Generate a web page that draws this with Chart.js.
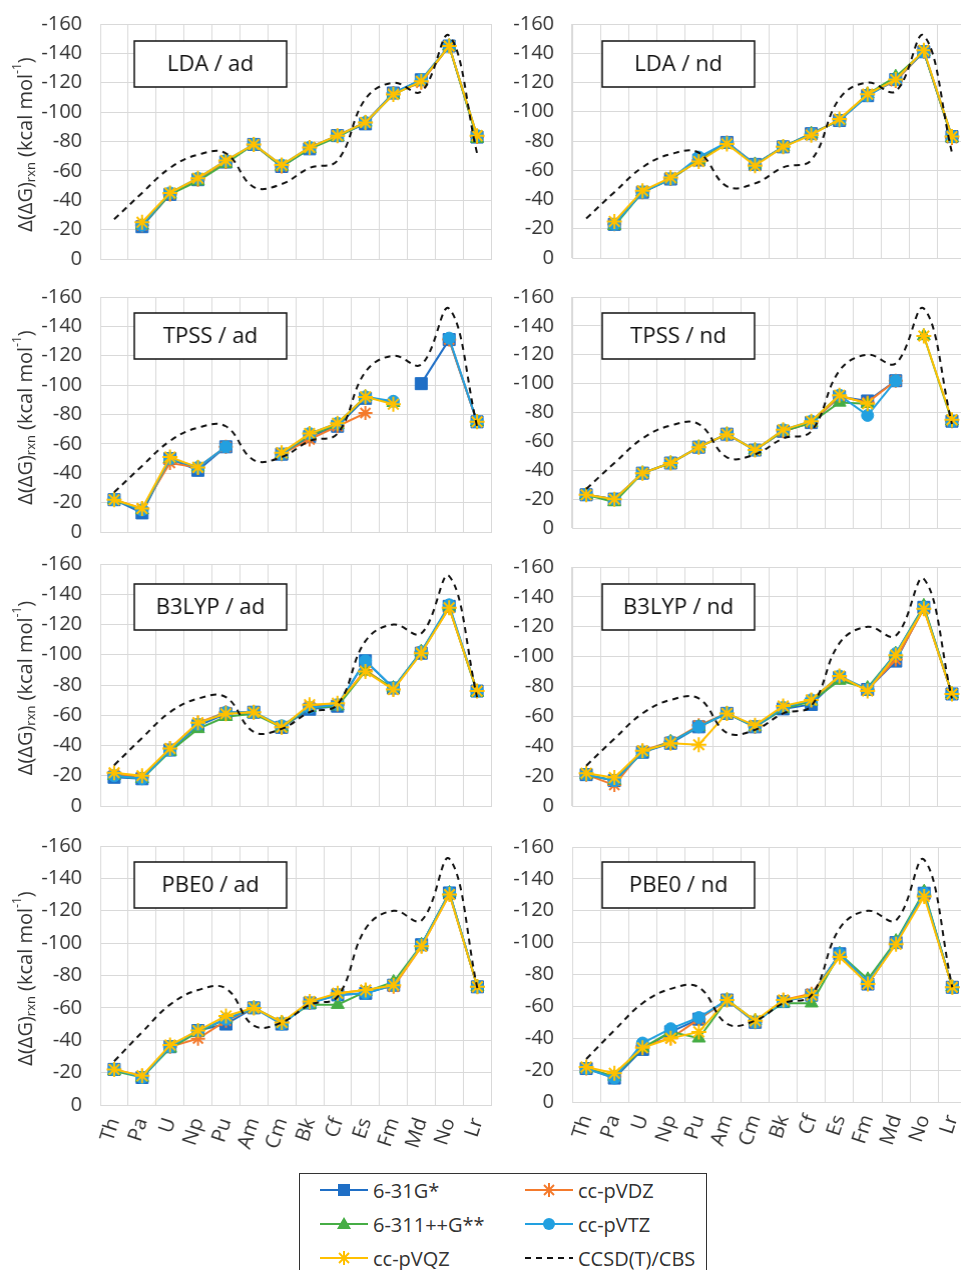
<!DOCTYPE html>
<html>
<head>
<meta charset="utf-8">
<script src="https://cdn.jsdelivr.net/npm/chart.js@4.4.1/dist/chart.umd.min.js"></script>
<style>
  html, body { margin: 0; padding: 0; background: #fff; overflow: hidden; }
  #fig { position: relative; width: 961px; height: 1270px; overflow: hidden; font-family: "Open Sans", sans-serif; }
  #fig canvas { position: absolute; }
  #legend { position: absolute; left: 299px; top: 1173px; width: 408px; height: 130px;
            border: 1.5px solid #333; box-sizing: border-box; background: #fff; }
  #legend .item { position: absolute; height: 22px; display: flex; align-items: center;
                  font-size: 20px; color: #333; white-space: nowrap; }
  #legend svg { margin-right: 5px; }
</style>
</head>
<body>
<div id="fig">
  <div id="legend"></div>
</div>
<script>
// actinides on the x axis
const elements = ['Th', 'Pa', 'U', 'Np', 'Pu', 'Am', 'Cm', 'Bk', 'Cf', 'Es', 'Fm', 'Md', 'No', 'Lr'];
const yTicks = [-160, -140, -120, -100, -80, -60, -40, -20, 0];

const basisSets = ['6-31G*', 'cc-pVDZ', '6-311++G**', 'cc-pVTZ', 'cc-pVQZ'];
const refLabel = 'CCSD(T)/CBS';

// reference curve, same in every panel
const ccsdCbs = [-27, -45, -62, -71, -72, -49, -51, -62, -67, -109, -120, -114, -152, -72];

// rows follow basisSets order
const ldaAd = [
  [null, -22, -44, -54, -66, -78, -63, -75, -84, -92, -113, -122, -145, -83],
  [null, -23, -44, -54, -66, -78, -63, -76, -84, -93, -113, -120, -145, -83],
  [null, -23, -44, -53, -65, -78, -63, -75, -83, -93, -112, -121, -145, -82],
  [null, -23, -45, -55, -67, -78, -64, -76, -84, -93, -113, -122, -145, -84],
  [null, -25, -45, -55, -67, -78, -64, -76, -84, -93, -112, -121, -145, -84]
];
const ldaNd = [
  [null, -23, -45, -54, -67, -79, -64, -76, -85, -94, -111, -122, -141, -83],
  [null, -23, -45, -54, -67, -79, -64, -76, -85, -94, -112, -121, -141, -82],
  [null, -22, -45, -54, -67, -78, -64, -76, -85, -94, -112, -124, -141, -82],
  [null, -23, -45, -54, -69, -79, -64, -76, -85, -94, -111, -122, -141, -83],
  [null, -25, -46, -55, -66, -78, -63, -76, -84, -95, -112, -122, -142, -83]
];
const tpssAd = [
  [-22, -13, -50, -42, -58, null, -53, -65, -72, -91, null, -101, -131, -75],
  [-22, -16, -47, -44, -58, null, -53, -63, -72, -81, null, null, -131, -75],
  [-22, -15, -50, -44, null, null, -53, -66, -73, -92, -88, null, null, -75],
  [-22, -15, -50, -44, -58, null, -53, -67, -74, -92, -89, null, -132, -75],
  [-22, -16, -51, -44, null, null, -54, -67, -74, -92, -87, null, null, -75]
];
const tpssNd = [
  [-23, -20, -38, -45, -56, -65, -54, -67, -73, -91, -88, -102, null, -74],
  [-23, -20, -38, -45, -56, -65, -54, -67, -73, -91, -87, -102, null, -74],
  [-23, -18, -38, -45, -56, -65, -54, -67, -73, -87, -86, null, -133, -74],
  [-23, -20, -38, -45, -56, -65, -54, -68, -74, -92, -78, -102, null, -74],
  [-23, -20, -38, -45, -56, -65, -54, -68, -74, -92, -86, null, -133, -75]
];
const b3lypAd = [
  [-19, -18, -37, -53, -61, -62, -52, -64, -66, -96, -78, -101, -132, -76],
  [-21, -19, -38, -55, -62, -62, -52, -66, -67, -90, -77, -102, -131, -76],
  [-20, -18, -36, -51, -59, -61, -52, -65, -66, -89, -78, -102, -132, -75],
  [-20, -18, -37, -54, -62, -62, -53, -65, -67, -96, -78, -102, -133, -76],
  [-22, -20, -38, -55, -61, -62, -52, -67, -68, -89, -77, -101, -131, -76]
];
const b3lypNd = [
  [-21, -17, -36, -42, -53, -62, -53, -65, -68, -86, -78, -97, -133, -75],
  [-21, -14, -37, -43, -54, -62, -53, -66, -71, -86, -78, -98, -132, -75],
  [-21, -17, -36, -43, -53, -62, -53, -65, -70, -84, -79, -102, -134, -75],
  [-21, -17, -36, -43, -53, -62, -53, -66, -71, -87, -78, -102, -133, -75],
  [-22, -19, -37, -42, -41, -62, -54, -67, -71, -87, -77, -101, -132, -75]
];
const pbe0Ad = [
  [-22, -17, -36, -46, -50, -60, -50, -63, -68, -69, -74, -99, -131, -73],
  [-22, -18, -36, -41, -52, -60, -51, -63, -69, -71, -73, -98, -130, -73],
  [-21, -17, -35, -45, -53, -60, -51, -62, -62, -70, -76, -99, -131, -73],
  [-22, -17, -36, -46, -53, -60, -50, -63, -68, -69, -74, -99, -131, -73],
  [-22, -18, -37, -46, -55, -60, -51, -64, -69, -71, -74, -98, -130, -73]
];
const pbe0Nd = [
  [-21, -15, -33, -44, -52, -64, -50, -63, -67, -93, -74, -100, -131, -72],
  [-21, -16, -35, -40, -52, -64, -50, -64, -68, -92, -74, -100, -130, -72],
  [-21, -16, -34, -44, -40, -64, -51, -62, -62, -93, -77, -101, -132, -72],
  [-21, -15, -37, -46, -53, -64, -50, -63, -67, -93, -75, -100, -131, -72],
  [-22, -18, -34, -40, -44, -64, -51, -64, -67, -91, -74, -99, -129, -72]
];

// series styling
const colors = ['#1f6fc6', '#f47a2c', '#46ad45', '#22a0e0', '#ffc000'];
const markers = ['rect', 'star', 'triangle', 'circle', 'star'];
const markerRadius = [8.5, 7, 7.5, 6, 7.5];

const FONT = '"Open Sans", sans-serif';
const TEXT = '#333';
Chart.defaults.font.family = FONT;

// two columns of panels (page x of the plot area)
const cols = [
  { plotLeft: 100, plotRight: 490, boxDx: 34 },
  { plotLeft: 572, plotRight: 965, boxDx: 30 }
];

const panels = [
  { label: 'LDA / ad',   data: ldaAd,   col: 0, row: 0, top: 24,  bottom: 259,  boxDy: 17 },
  { label: 'LDA / nd',   data: ldaNd,   col: 1, row: 0, top: 24,  bottom: 258,  boxDy: 17 },
  { label: 'TPSS / ad',  data: tpssAd,  col: 0, row: 1, top: 297, bottom: 532,  boxDy: 16 },
  { label: 'TPSS / nd',  data: tpssNd,  col: 1, row: 1, top: 297, bottom: 528,  boxDy: 16 },
  { label: 'B3LYP / ad', data: b3lypAd, col: 0, row: 2, top: 564, bottom: 806,  boxDy: 20 },
  { label: 'B3LYP / nd', data: b3lypNd, col: 1, row: 2, top: 567, bottom: 806,  boxDy: 17 },
  { label: 'PBE0 / ad',  data: pbe0Ad,  col: 0, row: 3, top: 846, bottom: 1105, boxDy: 16 },
  { label: 'PBE0 / nd',  data: pbe0Nd,  col: 1, row: 3, top: 847, bottom: 1102, boxDy: 15 }
];

// framed method label inside the plot
const panelBox = {
  id: 'panelBox',
  afterDatasetsDraw(chart, args, opts) {
    const { ctx, chartArea } = chart;
    const x = chartArea.left + opts.dx, y = chartArea.top + opts.dy;
    ctx.save();
    ctx.fillStyle = '#fff';
    ctx.fillRect(x, y, 152, 46);
    ctx.strokeStyle = '#111';
    ctx.lineWidth = 1.5;
    ctx.strokeRect(x, y, 152, 46);
    ctx.fillStyle = '#111';
    ctx.font = '22px ' + FONT;
    ctx.textAlign = 'center';
    ctx.textBaseline = 'middle';
    ctx.fillText(opts.text, x + 76, y + 24);
    ctx.restore();
  }
};

// rotated y title with sub- and superscript
const yTitle = {
  id: 'yTitle',
  afterDraw(chart, args, opts) {
    if (!opts.show) return;
    const { ctx, chartArea } = chart;
    const parts = [
      { t: '\u0394(\u0394G)', size: 20, dy: 0 },
      { t: 'rxn', size: 13, dy: 5 },
      { t: ' (kcal mol', size: 20, dy: 0 },
      { t: '-1', size: 12, dy: -8 },
      { t: ')', size: 20, dy: 0 }
    ];
    ctx.save();
    let total = 0;
    parts.forEach(p => { ctx.font = p.size + 'px ' + FONT; p.w = ctx.measureText(p.t).width; total += p.w; });
    ctx.translate(chartArea.left - 74, (chartArea.top + chartArea.bottom) / 2 + 3);
    ctx.rotate(-Math.PI / 2);
    ctx.fillStyle = TEXT;
    ctx.textBaseline = 'middle';
    let x = -total / 2;
    parts.forEach(p => {
      ctx.font = p.size + 'px ' + FONT;
      ctx.fillText(p.t, x, p.dy);
      x += p.w;
    });
    ctx.restore();
  }
};

const fig = document.getElementById('fig');

panels.forEach(p => {
  const g = cols[p.col];
  const bottomRow = p.row === 3;
  const xh = bottomRow ? 62 : 0;
  const yw = p.col === 0 ? 100 : 80;
  const cv = document.createElement('canvas');
  cv.width = (g.plotRight - g.plotLeft) + yw + 10;
  cv.height = (p.bottom - p.top) + 30 + xh;
  fig.appendChild(cv);

  const datasets = basisSets.map((name, i) => ({
    label: name,
    data: p.data[i],
    borderColor: colors[i],
    backgroundColor: colors[i],
    borderWidth: 2,
    pointStyle: markers[i],
    pointRadius: markerRadius[i],
    pointBorderWidth: markers[i] === 'star' ? 2 : 1,
    pointBackgroundColor: colors[i],
    pointBorderColor: colors[i],
    tension: 0,
    spanGaps: false,
    order: 6 - i
  }));
  datasets.push({
    label: refLabel,
    data: ccsdCbs,
    borderColor: '#111',
    borderWidth: 2,
    borderDash: [6, 5],
    pointRadius: 0,
    tension: 0.4,
    order: 0
  });

  const chart = new Chart(cv, {
    type: 'line',
    data: { labels: elements, datasets: datasets },
    options: {
      responsive: false,
      maintainAspectRatio: false,
      animation: false,
      layout: { padding: 0 },
      plugins: {
        legend: { display: false },
        tooltip: { enabled: false },
        panelBox: { text: p.label, dx: g.boxDx, dy: p.boxDy },
        yTitle: { show: p.col === 0 }
      },
      scales: {
        x: {
          type: 'category',
          offset: true,
          grid: { color: '#d9d9d9', offset: true, drawTicks: false },
          border: { color: '#d9d9d9' },
          ticks: {
            display: bottomRow, autoSkip: false, minRotation: 72, maxRotation: 72,
            padding: 10, color: TEXT, font: { size: 20 }
          },
          afterFit: s => { s.height = xh; }
        },
        y: {
          reverse: true,
          min: yTicks[0],
          max: yTicks[yTicks.length - 1],
          afterBuildTicks: s => { s.ticks = yTicks.map(v => ({ value: v })); },
          grid: { color: '#d9d9d9', drawTicks: false },
          border: { color: '#d9d9d9' },
          ticks: { padding: 18, color: TEXT, font: { size: 20 } },
          afterFit: s => { s.width = yw; }
        }
      }
    },
    plugins: [panelBox, yTitle]
  });

  // size the canvas so the plot area matches the panel, then place it
  let ca = chart.chartArea;
  const dw = (g.plotRight - g.plotLeft) - (ca.right - ca.left);
  const dh = (p.bottom - p.top) - (ca.bottom - ca.top);
  chart.resize(cv.width + dw, cv.height + dh);
  ca = chart.chartArea;
  cv.style.left = (g.plotLeft - ca.left) + 'px';
  cv.style.top = (p.top - ca.top) + 'px';
});

// legend, three rows of two entries
function legendIcon(color, marker, dashed) {
  const ns = 'http://www.w3.org/2000/svg';
  const svg = document.createElementNS(ns, 'svg');
  svg.setAttribute('width', 48);
  svg.setAttribute('height', 20);
  const add = (tag, attrs) => {
    const el = document.createElementNS(ns, tag);
    Object.entries(attrs).forEach(([k, v]) => el.setAttribute(k, v));
    svg.appendChild(el);
  };
  add('line', { x1: 0, y1: 10, x2: 48, y2: 10, stroke: color, 'stroke-width': 2,
                'stroke-dasharray': dashed ? '6,5' : 'none' });
  if (marker === 'rect') add('rect', { x: 18, y: 4, width: 12, height: 12, fill: color });
  if (marker === 'circle') add('circle', { cx: 24, cy: 10, r: 6, fill: color });
  if (marker === 'triangle') add('polygon', { points: '24,3 31,15 17,15', fill: color });
  if (marker === 'star') {
    add('line', { x1: 24, y1: 3, x2: 24, y2: 17, stroke: color, 'stroke-width': 2 });
    add('line', { x1: 19, y1: 5, x2: 29, y2: 15, stroke: color, 'stroke-width': 2 });
    add('line', { x1: 29, y1: 5, x2: 19, y2: 15, stroke: color, 'stroke-width': 2 });
  }
  return svg;
}

const legend = document.getElementById('legend');
const entries = basisSets.map((name, i) => ({ name, color: colors[i], marker: markers[i], dashed: false }));
entries.push({ name: refLabel, color: '#111', marker: null, dashed: true });
entries.forEach((e, i) => {
  const item = document.createElement('div');
  item.className = 'item';
  item.style.left = (i % 2 === 0 ? 20 : 225) + 'px';
  item.style.top = (5 + Math.floor(i / 2) * 34) + 'px';
  item.appendChild(legendIcon(e.color, e.marker, e.dashed));
  const span = document.createElement('span');
  span.textContent = e.name;
  item.appendChild(span);
  legend.appendChild(item);
});
</script>
</body>
</html>
